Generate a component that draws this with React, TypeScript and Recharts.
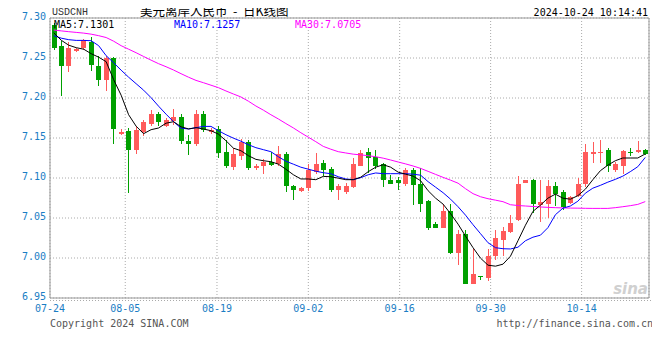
import React from "react";
import {
  ComposedChart,
  Bar,
  Line,
  XAxis,
  YAxis,
  CartesianGrid,
  ReferenceArea,
} from "recharts";

// 日K 数据，按交易日顺序
const opens = [
  7.2916, 7.2654, 7.2395, 7.2587, 7.262, 7.2704, 7.2404, 7.2229, 7.2504, 7.1545,
  7.1588, 7.1345, 7.1579, 7.1679, 7.1804, 7.1654, 7.1712, 7.1762, 7.1463, 7.142,
  7.1804, 7.1579, 7.1613, 7.132, 7.1138, 7.1279, 7.1445, 7.112, 7.1145, 7.1195,
  7.117, 7.1304, 7.0904, 7.0838, 7.087, 7.107, 7.1188, 7.1113, 7.0854, 7.082,
  7.0888, 7.1154, 7.1329, 7.1263, 7.117, 7.0979, 7.097, 7.0929, 7.1104, 7.092,
  7.0713, 7.0429, 7.0379, 7.0588, 7.0063, 7.0295, 6.9679, 6.977, 6.9754, 7.002,
  7.0229, 7.032, 7.047, 7.0938, 7.097, 7.0663, 7.0679, 7.0904, 7.082, 7.0688,
  7.0779, 7.092, 7.1304, 7.1313, 7.1345, 7.1095, 7.1154, 7.1329, 7.1329, 7.1354,
];
const highs = [
  7.2938, 7.2708, 7.2695, 7.262, 7.2737, 7.2762, 7.2529, 7.2529, 7.2513, 7.1613,
  7.1629, 7.1645, 7.1729, 7.1854, 7.1829, 7.1745, 7.1863, 7.1804, 7.1538, 7.1845,
  7.1838, 7.162, 7.1645, 7.147, 7.1379, 7.1488, 7.1479, 7.117, 7.1238, 7.1329,
  7.1404, 7.132, 7.0913, 7.0891, 7.1179, 7.1313, 7.122, 7.1138, 7.092, 7.0937,
  7.1254, 7.1354, 7.137, 7.1345, 7.1188, 7.1038, 7.1013, 7.1129, 7.1129, 7.1129,
  7.0729, 7.0454, 7.0679, 7.0679, 7.0345, 7.0345, 7.0113, 6.977, 7.0113, 7.0345,
  7.0388, 7.0538, 7.1029, 7.0979, 7.0988, 7.0979, 7.0979, 7.0945, 7.0845, 7.0779,
  7.0995, 7.1429, 7.1454, 7.147, 7.1379, 7.1204, 7.1354, 7.1379, 7.1466, 7.1359,
];
const lows = [
  7.2604, 7.202, 7.232, 7.2579, 7.2595, 7.2337, 7.2154, 7.2088, 7.142, 7.1538,
  7.0816, 7.1295, 7.152, 7.1645, 7.1654, 7.1638, 7.1663, 7.142, 7.1288, 7.1404,
  7.157, 7.1554, 7.1254, 7.1129, 7.1104, 7.1229, 7.1104, 7.1104, 7.1045, 7.1154,
  7.1154, 7.0829, 7.0729, 7.0829, 7.0838, 7.1054, 7.1029, 7.0829, 7.0729, 7.0804,
  7.0879, 7.1145, 7.1063, 7.1113, 7.0888, 7.092, 7.0854, 7.0904, 7.0663, 7.0579,
  7.0354, 7.037, 7.037, 7.0054, 6.9913, 6.967, 6.967, 6.9729, 6.9713, 6.9979,
  7.0029, 7.0313, 7.0463, 7.0938, 7.0563, 7.0445, 7.0504, 7.0654, 7.0604, 7.0679,
  7.0763, 7.0888, 7.1188, 7.1188, 7.107, 7.1079, 7.1054, 7.1279, 7.1313, 7.1286,
];
const closes = [
  7.2625, 7.2395, 7.2629, 7.2612, 7.272, 7.2412, 7.2229, 7.2504, 7.1613, 7.1579,
  7.1345, 7.1604, 7.1695, 7.1804, 7.1704, 7.1729, 7.1762, 7.1463, 7.142, 7.1804,
  7.1595, 7.1595, 7.1313, 7.1145, 7.1295, 7.1454, 7.1129, 7.1154, 7.1195, 7.1163,
  7.1304, 7.0895, 7.0845, 7.0879, 7.1104, 7.1179, 7.1104, 7.0854, 7.0895, 7.0895,
  7.117, 7.1313, 7.1245, 7.1154, 7.097, 7.0929, 7.0938, 7.1095, 7.0913, 7.0679,
  7.0379, 7.0379, 7.0588, 7.0063, 7.0295, 6.9679, 6.9795, 6.9758, 7.0029, 7.0245,
  7.0338, 7.0438, 7.0929, 7.097, 7.067, 7.0695, 7.0904, 7.0795, 7.0638, 7.0763,
  7.0929, 7.132, 7.132, 7.1329, 7.1145, 7.117, 7.1338, 7.1313, 7.1354, 7.1295,
];

// 均线
const ma5 = [
  7.2816, 7.2722, 7.266, 7.2629, 7.261, 7.2554, 7.251, 7.2454, 7.2229, 7.2035,
  7.1791, 7.1648, 7.1554, 7.1604, 7.1625, 7.1685, 7.1704, 7.1641, 7.1613, 7.1629,
  7.1613, 7.1591, 7.1548, 7.1466, 7.1373, 7.1341, 7.1279, 7.1233, 7.1216, 7.1204,
  7.1173, 7.111, 7.1041, 7.0988, 7.0988, 7.0979, 7.102, 7.1016, 7.0998, 7.0979,
  7.0979, 7.101, 7.1079, 7.1135, 7.1166, 7.1135, 7.1073, 7.1048, 7.1023, 7.0966,
  7.0841, 7.0748, 7.0673, 7.0554, 7.0423, 7.0273, 7.0129, 6.9998, 6.991, 6.9898,
  6.9923, 7.0023, 7.0216, 7.041, 7.0583, 7.066, 7.0748, 7.0798, 7.0748, 7.0735,
  7.0779, 7.086, 7.0979, 7.1091, 7.116, 7.1216, 7.125, 7.125, 7.125, 7.1301,
];
const ma10 = [
  7.2779, 7.2748, 7.2729, 7.272, 7.272, 7.2716, 7.2654, 7.2529, 7.2441, 7.2348,
  7.226, 7.2179, 7.2098, 7.2004, 7.1898, 7.1798, 7.1704, 7.1623, 7.1613, 7.1629,
  7.1645, 7.1645, 7.1591, 7.1541, 7.1498, 7.146, 7.1416, 7.1379, 7.1354, 7.1329,
  7.1266, 7.121, 7.1173, 7.1135, 7.111, 7.1085, 7.1066, 7.1054, 7.1016, 7.0988,
  7.0979, 7.1004, 7.1041, 7.1063, 7.1054, 7.1054, 7.1054, 7.1054, 7.1048, 7.1035,
  7.0954, 7.0885, 7.0816, 7.0735, 7.0641, 7.0535, 7.0416, 7.0304, 7.0191, 7.0129,
  7.0116, 7.0113, 7.0135, 7.0216, 7.026, 7.0285, 7.0379, 7.0541, 7.0623, 7.065,
  7.071, 7.081, 7.0873, 7.0908, 7.0948, 7.0983, 7.1023, 7.1079, 7.1141, 7.1257,
];
const ma30 = [
  7.285, 7.2839, 7.2829, 7.282, 7.2811, 7.2798, 7.2779, 7.2756, 7.271, 7.2654,
  7.261, 7.2566, 7.2519, 7.2473, 7.2429, 7.2391, 7.235, 7.2304, 7.226, 7.222,
  7.2191, 7.216, 7.2129, 7.2088, 7.205, 7.2013, 7.196, 7.19, 7.1848, 7.1791,
  7.1738, 7.1681, 7.1626, 7.1566, 7.151, 7.1454, 7.1395, 7.136, 7.1329, 7.1313,
  7.1298, 7.1289, 7.1279, 7.1266, 7.1248, 7.1225, 7.12, 7.1176, 7.115, 7.112,
  7.1083, 7.1045, 7.1008, 7.0973, 7.0935, 7.0866, 7.0804, 7.0766, 7.0741, 7.0723,
  7.0704, 7.0666, 7.0656, 7.065, 7.0644, 7.0638, 7.0633, 7.0629, 7.0626, 7.0624,
  7.0623, 7.0621, 7.062, 7.062, 7.062, 7.0629, 7.0641, 7.0654, 7.067, 7.0705,
];

const xTickLabels = ["07-24", "08-05", "08-19", "09-02", "09-16", "09-30", "10-14"];
const xTickPos = [0, 10.05, 22.3, 34.5, 46.7, 58.85, 71.0];
const yTicks = [6.95, 7.0, 7.05, 7.1, 7.15, 7.2, 7.25, 7.3];

const RED = "#ff5a5a";
const GREEN = "#00a000";
const BLUE_TXT = "#1a7dc4";
const MONO = "'DejaVu Sans Mono', monospace";

const rows = closes.map((c, i) => ({
  x: i + 0.5,
  range: [lows[i], highs[i]],
  open: opens[i],
  close: c,
  high: highs[i],
  low: lows[i],
  ma5: ma5[i],
  ma10: ma10[i],
  ma30: ma30[i],
}));

const Candle = (props: any) => {
  const { x, y, width, height, payload } = props;
  if (payload == null || x == null) return null;
  const top = Math.min(y, y + height);
  const h = Math.abs(height);
  const { open, close, high, low } = payload;
  const k = high - low > 0 ? h / (high - low) : 0;
  const yOf = (v: number) => top + (high - v) * k;
  const color = close >= open ? RED : GREEN;
  const c = Math.round(x + width / 2);
  const bTop = yOf(Math.max(open, close));
  const bBot = yOf(Math.min(open, close));
  return (
    <g shapeRendering="crispEdges">
      <line x1={c + 0.5} x2={c + 0.5} y1={top} y2={top + h} stroke={color} strokeWidth={1} />
      <rect x={c - 2} y={bTop} width={5} height={Math.max(1, bBot - bTop)} fill={color} />
    </g>
  );
};

const YTick = (props: any) => {
  const { x, y, payload } = props;
  return (
    <text x={x} y={y - 2} textAnchor="end" dominantBaseline="central" fontFamily={MONO} fontSize={10} fill={BLUE_TXT}>
      {Number(payload.value).toFixed(2)}
    </text>
  );
};

const XTick = (props: any) => {
  const { x, y, payload } = props;
  const i = xTickPos.indexOf(payload.value);
  return (
    <text x={x} y={y + 10} textAnchor="middle" dominantBaseline="central" fontFamily={MONO} fontSize={10} fill={BLUE_TXT}>
      {xTickLabels[i] ?? ""}
    </text>
  );
};

export default function App() {
  return (
    <div style={{ position: "relative", width: 644, height: 344 }}>
      <ComposedChart
        width={644}
        height={344}
        data={rows}
        margin={{ top: 10, right: 3, bottom: 34, left: 0 }}
      >
        <CartesianGrid stroke="#aaa" strokeDasharray="1 2" />
        <XAxis
          type="number"
          dataKey="x"
          domain={[0, 80]}
          ticks={xTickPos}
          interval={0}
          allowDataOverflow
          axisLine={false}
          tickLine={false}
          tickSize={0}
          tickMargin={0}
          height={20}
          tick={<XTick />}
        />
        <YAxis
          domain={[6.95, 7.3]}
          ticks={yTicks}
          interval={0}
          allowDataOverflow
          axisLine={false}
          tickLine={false}
          tickSize={0}
          tickMargin={4}
          width={42}
          tick={<YTick />}
        />
        <ReferenceArea x1={0} x2={80} y1={6.95} y2={7.3} fill="none" stroke="#999" strokeWidth={1} />
        <Bar dataKey="range" barSize={5} shape={<Candle />} isAnimationActive={false} />
        <Line type="linear" dataKey="ma30" stroke="#ff00ff" strokeWidth={1} dot={false} isAnimationActive={false} />
        <Line type="linear" dataKey="ma10" stroke="#0000ff" strokeWidth={1} dot={false} isAnimationActive={false} />
        <Line type="linear" dataKey="ma5" stroke="#000000" strokeWidth={1} dot={false} isAnimationActive={false} />
      </ComposedChart>
      {/* 叠加文字层：上移 8px 以便标题能画到页边距里 */}
      <svg
        width={644}
        height={352}
        style={{ position: "absolute", left: 0, top: -8, pointerEvents: "none" }}
      >
        <g transform="translate(0,8)">
          <text x={44} y={4} dominantBaseline="central" fontFamily="'Liberation Mono', monospace" fontSize={10} fill="#333">
            USDCNH
          </text>
          <text x={132} y={8} fontFamily="'Noto Sans CJK SC', sans-serif" fontSize={12.5} fill="#000" style={{ whiteSpace: "pre" }}>
            {"美元离岸人民币  -  日K线图"}
          </text>
          <text x={640} y={4} textAnchor="end" dominantBaseline="central" fontFamily={MONO} fontSize={10} fill="#000">
            2024-10-24 10:14:41
          </text>
          <text x={46} y={16.5} dominantBaseline="central" fontFamily={MONO} fontSize={10} fill="#000">
            MA5:7.1301
          </text>
          <text x={166} y={16.5} dominantBaseline="central" fontFamily={MONO} fontSize={10} fill="#0000ff">
            MA10:7.1257
          </text>
          <text x={287} y={16.5} dominantBaseline="central" fontFamily={MONO} fontSize={10} fill="#ff00ff">
            MA30:7.0705
          </text>
          <line x1={42} x2={645} y1={292.5} y2={292.5} stroke="#aaa" strokeDasharray="1 2" />
          <text x={640} y={286} textAnchor="end" fontFamily="'DejaVu Sans', sans-serif" fontStyle="italic" fontWeight="bold" fontSize={15} fill="#d0d0d0">
            sina
          </text>
          <text x={42} y={315} dominantBaseline="central" fontFamily={MONO} fontSize={10} fill="#555">
            Copyright 2024 SINA.COM
          </text>
          <text x={645} y={315} textAnchor="end" dominantBaseline="central" fontFamily={MONO} fontSize={10} fill="#555">
            http://finance.sina.com.cn
          </text>
        </g>
      </svg>
    </div>
  );
}
